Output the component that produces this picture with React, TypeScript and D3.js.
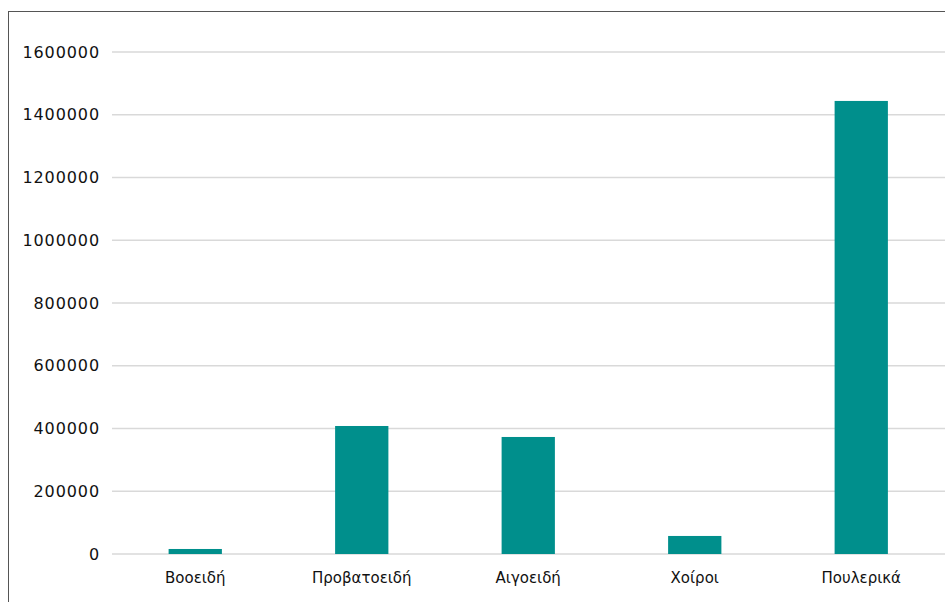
import React from "react";
import * as d3 from "d3";

const categories = ["Βοοειδή", "Προβατοειδή", "Αιγοειδή", "Χοίροι", "Πουλερικά"];
const values = [16000, 408000, 373000, 57500, 1444000];
const yTicks = [0, 200000, 400000, 600000, 800000, 1000000, 1200000, 1400000, 1600000];

const W = 945;
const H = 602;

export default function App() {
  const x = d3.scaleBand<string>().domain(categories).range([112, 944.5]).paddingInner(0.68).paddingOuter(0.34);
  const y = d3.scaleLinear().domain([0, 1600000]).range([554, 52]);
  const font = "'DejaVu Sans', sans-serif";
  return (
    <svg width={W} height={H} style={{ position: "fixed", left: 0, top: 0 }}>
      <rect x={0} y={0} width={W} height={H} fill="#fff" />
      <line x1={8.5} y1={11.5} x2={8.5} y2={H} stroke="#555" strokeWidth={1} />
      <line x1={8} y1={11.5} x2={W} y2={11.5} stroke="#555" strokeWidth={1} />
      {yTicks.map((t) => (
        <g key={t}>
          <line x1={112} x2={W} y1={y(t)} y2={y(t)} stroke="#d9d9d9" strokeWidth={1.5} />
          <text x={100} y={y(t)} dy="0.35em" textAnchor="end" fontFamily={font} fontSize={16} letterSpacing={0.9} fill="#111">
            {t}
          </text>
        </g>
      ))}
      {categories.map((c, i) => (
        <g key={c}>
          <rect x={x(c)} y={y(values[i])} width={x.bandwidth()} height={y(0) - y(values[i])} fill="#008F8C" />
          <text x={(x(c) as number) + x.bandwidth() / 2} y={578} dy="0.35em" textAnchor="middle" fontFamily={font} fontSize={15} fill="#111">
            {c}
          </text>
        </g>
      ))}
    </svg>
  );
}
